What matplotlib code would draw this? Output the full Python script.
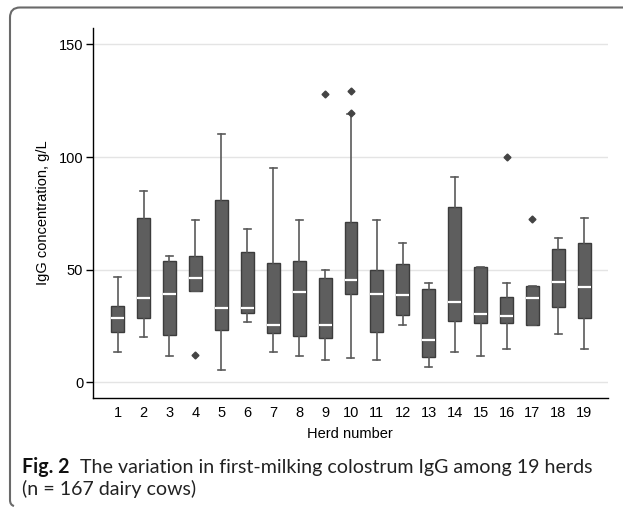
import matplotlib
matplotlib.use("Agg")
import matplotlib.pyplot as plt
from matplotlib.path import Path
from matplotlib.patches import PathPatch

# Herd boxplot stats (g/L)
herds = list(range(1, 20))
whis_lo = [13.3, 20.3, 11.8, 40.7, 5.3, 26.9, 13.3, 11.8, 10.1, 10.9,
           10.1, 25.3, 7.0, 13.3, 11.8, 14.9, 25.6, 21.3, 14.9]
q1 = [22.5, 28.7, 21.2, 40.7, 23.2, 30.6, 21.7, 20.7, 19.5, 39.2,
      22.5, 30.0, 11.4, 27.4, 26.5, 26.5, 25.6, 33.6, 28.7]
med = [28.4, 37.3, 39.2, 46.4, 33.1, 33.1, 25.4, 40.2, 25.4, 45.6,
       39.2, 38.9, 18.9, 35.8, 30.3, 29.3, 37.6, 44.7, 42.3]
q3 = [34.0, 72.9, 54.0, 56.2, 80.9, 58.0, 53.0, 54.0, 46.4, 71.3,
      50.0, 52.7, 41.3, 78.0, 51.2, 38.0, 42.9, 59.3, 62.0]
whis_hi = [46.9, 84.9, 56.2, 72.0, 110.2, 68.2, 95.3, 72.0, 50.0, 119.2,
           72.0, 62.0, 44.1, 91.3, 51.2, 44.1, 42.9, 64.1, 72.9]
outliers = {4: [12.1], 9: [128.1], 10: [129.4, 119.6], 16: [100.1], 17: [72.3]}

yticks = [0, 50, 100, 150]

plt.rcParams['font.family'] = ['Liberation Sans', 'DejaVu Sans']

fig = plt.figure(figsize=(6.23, 5.09), dpi=100)
ax = fig.add_axes([0.1493, 0.218, 0.9754 - 0.1493, 0.945 - 0.218])

stats = []
for i, h in enumerate(herds):
    stats.append({
        "label": str(h),
        "whislo": whis_lo[i],
        "q1": q1[i],
        "med": med[i],
        "q3": q3[i],
        "whishi": whis_hi[i],
        "fliers": outliers.get(h, []),
    })

ax.bxp(stats, positions=herds, widths=0.5, patch_artist=True,
       showfliers=True,
       boxprops=dict(facecolor="#5e5e5e", edgecolor="#3c3c3c", linewidth=1.0),
       medianprops=dict(color="white", linewidth=1.6),
       whiskerprops=dict(color="#5a5a5a", linewidth=1.2),
       capprops=dict(color="#5a5a5a", linewidth=1.2),
       capwidths=0.27,
       flierprops=dict(marker="D", markersize=3.5, markerfacecolor="#444444",
                       markeredgecolor="#444444"))

ax.set_xlim(0.05, 19.9)
ax.set_ylim(-7, 157.3)
ax.set_yticks(yticks)
ax.set_xticks(herds)
ax.set_xticklabels([str(h) for h in herds])
ax.yaxis.grid(True, color="#e4e4e4", linewidth=1.0)
ax.set_axisbelow(True)
for s in ["top", "right"]:
    ax.spines[s].set_visible(False)
ax.spines["left"].set_linewidth(1.0)
ax.spines["bottom"].set_linewidth(1.0)
ax.tick_params(axis="y", length=5, width=1.0, labelsize=10.5, pad=2)
ax.tick_params(axis="x", length=0, labelsize=10.5, pad=6)
ax.set_ylabel("IgG concentration, g/L", fontsize=10.5, labelpad=6)
ax.set_xlabel("Herd number", fontsize=10.5, labelpad=5)

# caption
cap_font = ["Lato", "DejaVu Sans"]
fig.text(22 / 623, 1 - 473 / 509, "Fig. 2", fontsize=14.1, fontweight="bold",
         va="baseline", ha="left", family=cap_font, color="#111111")
fig.text(80 / 623, 1 - 473 / 509, "The variation in first-milking colostrum IgG among 19 herds",
         fontsize=14.1, va="baseline", ha="left", family=cap_font, color="#222222")
fig.text(22 / 623, 1 - 495 / 509, "(n = 167 dairy cows)",
         fontsize=14.1, va="baseline", ha="left", family=cap_font, color="#222222")

# card border (top line + rounded left edge)
W, H = 623.0, 509.0
verts = [(W, 7.5), (20, 7.5), (10, 7.5), (10, 17.5), (10, 500), (10, 505), (14, 506)]
codes = [Path.MOVETO, Path.LINETO, Path.CURVE3, Path.CURVE3, Path.LINETO,
         Path.CURVE3, Path.CURVE3]
verts = [(x / W, 1 - y / H) for x, y in verts]
fig.patches.append(PathPatch(Path(verts, codes), transform=fig.transFigure,
                             fill=False, edgecolor="#6a6a6a", linewidth=1.5))

fig.savefig("out.png", dpi=100)
